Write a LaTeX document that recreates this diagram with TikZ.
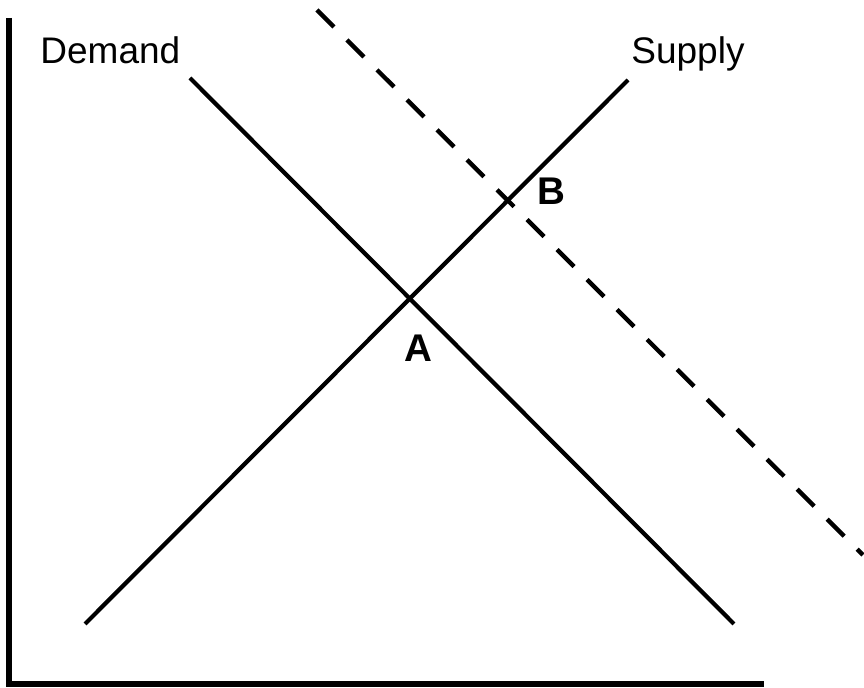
\documentclass[tikz,border=0pt]{standalone}
\usepackage{fontspec}
\setmainfont{Liberation Sans}
\usepackage{tikz}

\begin{document}
\begin{tikzpicture}[
  x=0.5pt, y=-0.5pt,
  axis/.style={draw, line width=3pt},
  curve/.style={draw, line width=2.1pt},
  shifted/.style={draw, line width=2.2pt, dash pattern=on 12pt off 9.2pt},
  lbl/.style={font=\fontsize{18.5}{21}\selectfont, anchor=base west, inner sep=0pt},
  pt/.style={font=\fontsize{19.3}{22}\selectfont\bfseries, anchor=base west, inner sep=0pt}
]
\useasboundingbox (0,0) rectangle (864,688);

% axes
\coordinate (top) at (8.5,18);
\coordinate (origin) at (8.5,684);
\coordinate (right) at (764,684);
\draw[axis] (top) -- (origin) -- (right);

% demand and supply
\coordinate (d1) at (190,78);
\coordinate (d2) at (734,624);
\coordinate (s1) at (85,624);
\coordinate (s2) at (628,80);
\draw[curve] (d1) -- (d2);
\draw[curve] (s1) -- (s2);

% shifted demand
\coordinate (n1) at (317,10);
\coordinate (n2) at (863,555);
\draw[shifted] (n1) -- (n2);

\node[lbl] (demand) at (40,64) {Demand};
\node[lbl] (supply) at (631,64) {Supply};
\node[pt] (ptA) at (404,362) {A};
\node[pt] (ptB) at (537,205) {B};
\end{tikzpicture}
\end{document}
